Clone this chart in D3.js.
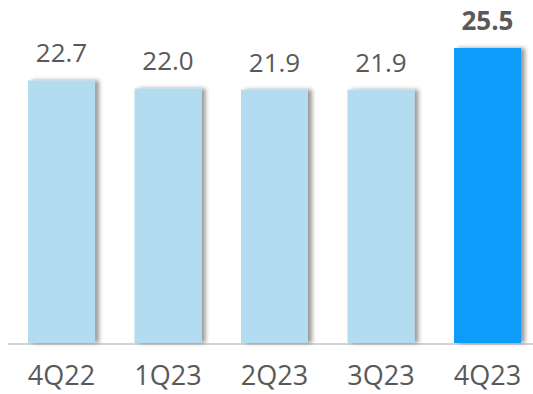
<!DOCTYPE html>
<html>
<head>
<meta charset="utf-8">
<script src="https://cdn.jsdelivr.net/npm/d3@7"></script>
<style>
  html, body { margin: 0; padding: 0; background: #fff; }
  svg { display: block; }
</style>
</head>
<body>
<div class="chart_wrapper"></div>
<script>
const quarters = ['4Q22', '1Q23', '2Q23', '3Q23', '4Q23']
const values = [22.7, 22.0, 21.9, 21.9, 25.5]
const highlighted = ['4Q23']

const width = 533
const height = 394
const baseY = 343
const topY = 48

const svg = d3.select('.chart_wrapper')
    .append('svg')
    .attr('width', width)
    .attr('height', height)

// soft shadow on the right side of each bar
const defs = svg.append('defs')
const filter = defs.append('filter')
    .attr('id', 'barShadow')
    .attr('x', '-10%').attr('y', '-10%')
    .attr('width', '130%').attr('height', '120%')
filter.append('feDropShadow')
    .attr('dx', 4)
    .attr('dy', 0)
    .attr('stdDeviation', 2)
    .attr('flood-color', '#000')
    .attr('flood-opacity', 0.4)

const x = d3.scaleBand()
    .domain(quarters)
    .range([8, 541])
    .paddingInner(0.371)
    .paddingOuter(0.188)

const y = d3.scaleLinear()
    .domain([0, d3.max(values)])
    .range([baseY, topY])

const data = quarters.map((q, i) => ({ q, v: values[i] }))

// baseline
svg.append('line')
    .attr('x1', 8)
    .attr('x2', width)
    .attr('y1', baseY + 1)
    .attr('y2', baseY + 1)
    .attr('stroke', '#d4d4d4')
    .attr('stroke-width', 2)

svg.append('g')
    .selectAll('rect')
    .data(data)
    .join('rect')
    .attr('x', d => x(d.q))
    .attr('y', d => y(d.v))
    .attr('width', x.bandwidth())
    .attr('height', d => baseY - y(d.v))
    .attr('fill', d => highlighted.includes(d.q) ? '#089cf9' : '#b4dcf0')
    .attr('filter', 'url(#barShadow)')

// value labels
svg.append('g')
    .selectAll('text')
    .data(data)
    .join('text')
    .attr('x', d => x(d.q) + x.bandwidth() / 2)
    .attr('y', d => y(d.v) - 18)
    .attr('text-anchor', 'middle')
    .attr('font-family', '"Open Sans", sans-serif')
    .attr('font-size', '26px')
    .attr('font-weight', d => highlighted.includes(d.q) ? 700 : 400)
    .attr('fill', '#595959')
    .text(d => d.v.toFixed(1))

// category axis labels
const xAxis = svg.append('g')
    .attr('transform', `translate(0,${baseY})`)
    .call(d3.axisBottom(x).tickSize(0).tickPadding(0))
xAxis.select('.domain').remove()
xAxis.selectAll('text')
    .attr('dy', null)
    .attr('y', 42)
    .attr('font-family', '"Open Sans", sans-serif')
    .attr('font-size', '27px')
    .attr('fill', '#595959')
</script>
</body>
</html>
